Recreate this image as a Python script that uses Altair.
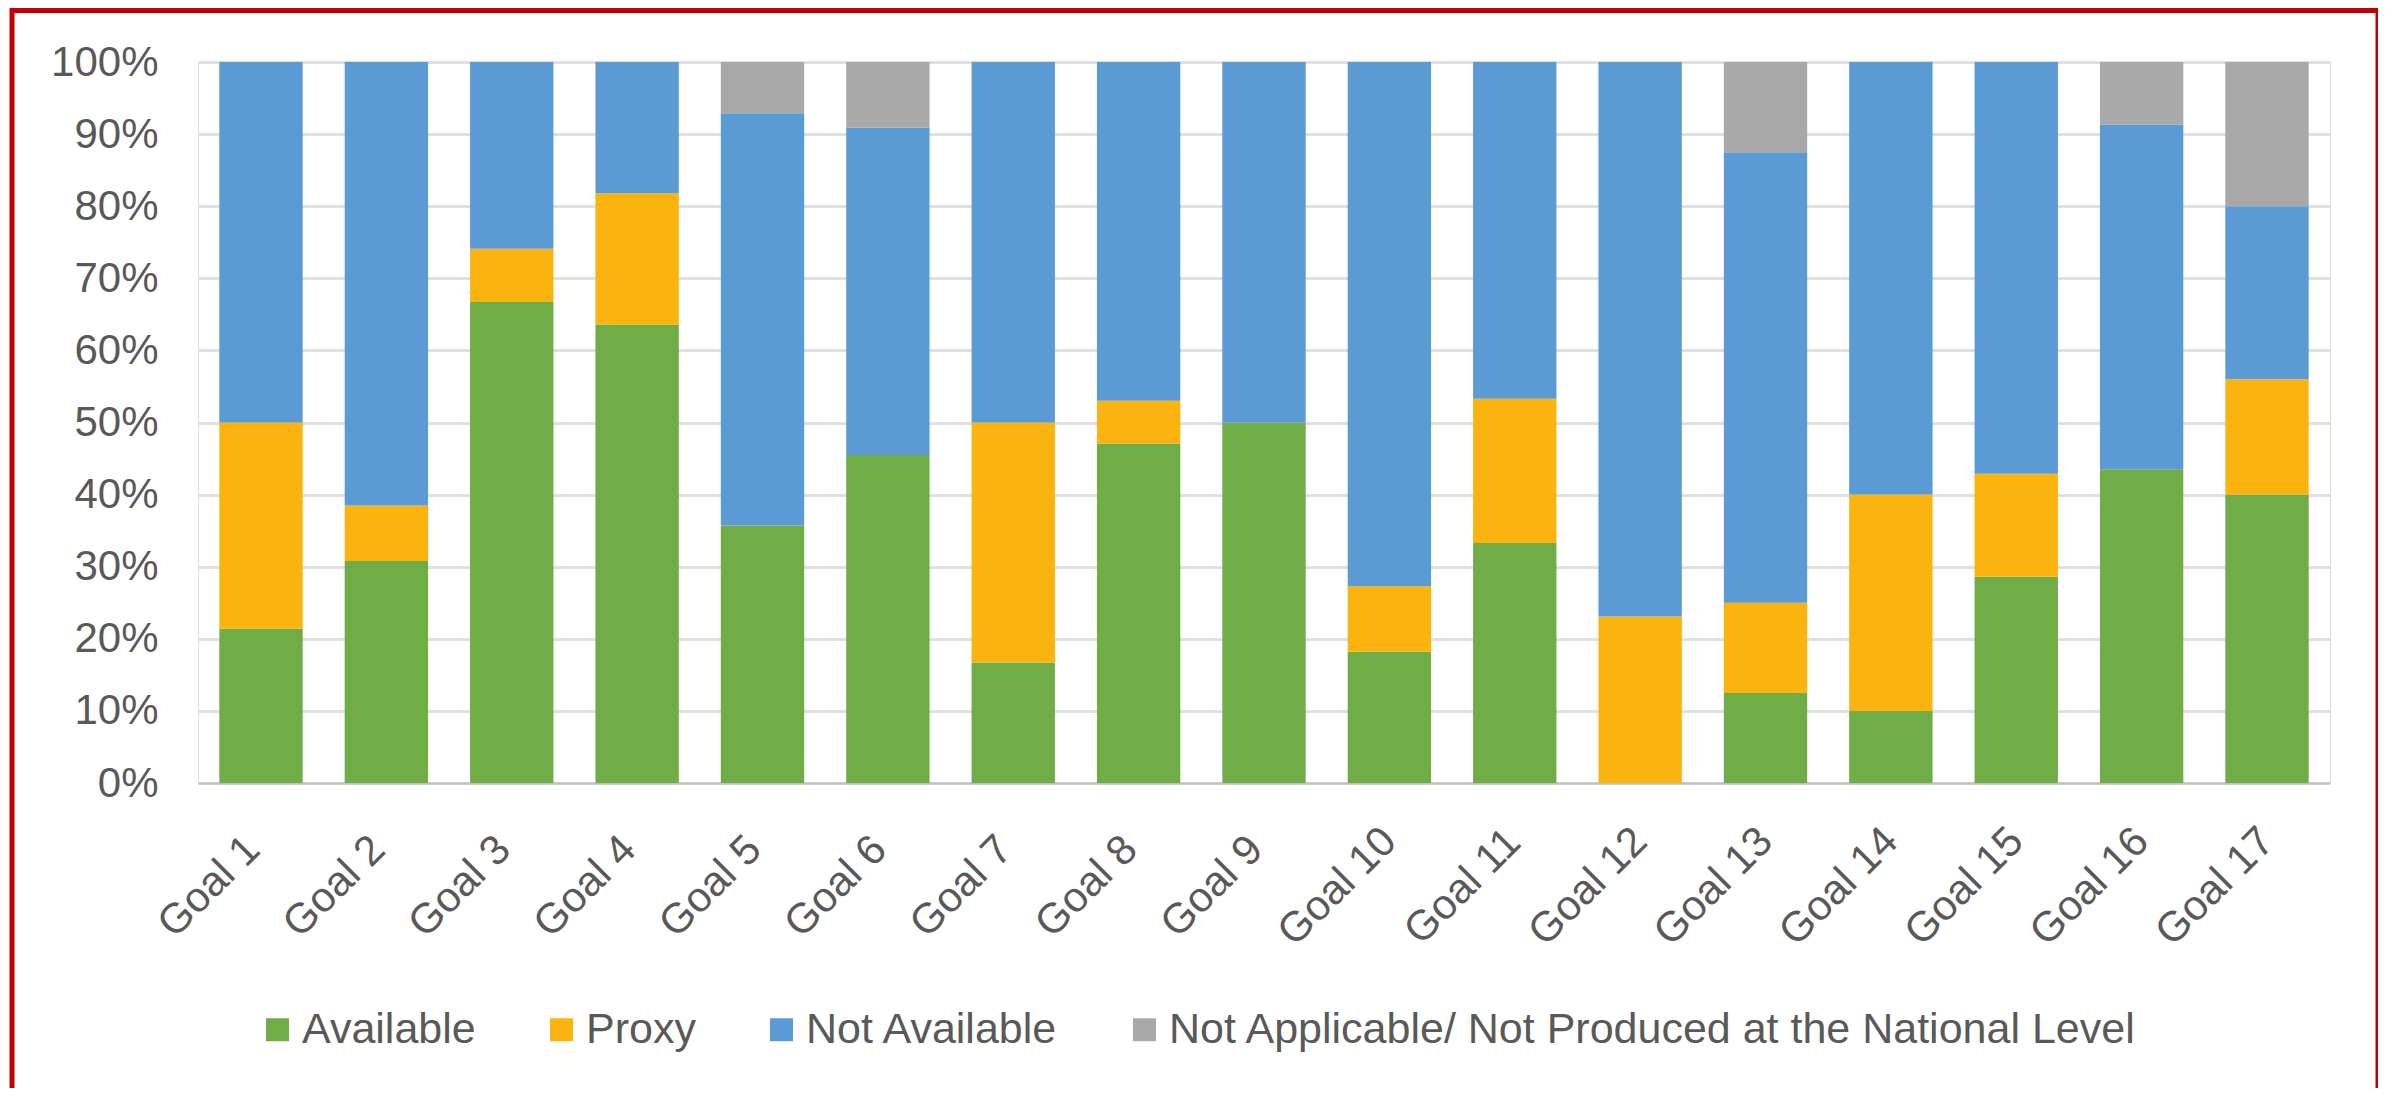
import altair as alt
import pandas as pd

goals = ["Goal 1", "Goal 2", "Goal 3", "Goal 4", "Goal 5", "Goal 6", "Goal 7", "Goal 8",
         "Goal 9", "Goal 10", "Goal 11", "Goal 12", "Goal 13", "Goal 14", "Goal 15",
         "Goal 16", "Goal 17"]

categories = ["Available", "Proxy", "Not Available",
              "Not Applicable/ Not Produced at the National Level"]

available = [21.4, 30.8, 66.7, 63.6, 35.7, 45.5, 16.7, 47.1, 50.0, 18.2, 33.3, 0.0, 12.5, 10.0, 28.6, 43.5, 40.0]
proxy = [28.6, 7.7, 7.4, 18.2, 0.0, 0.0, 33.3, 5.9, 0.0, 9.1, 20.0, 23.1, 12.5, 30.0, 14.3, 0.0, 16.0]
not_available = [50.0, 61.5, 25.9, 18.2, 57.2, 45.4, 50.0, 47.0, 50.0, 72.7, 46.7, 76.9, 62.5, 60.0, 57.1, 47.8, 24.0]
not_applicable = [0.0, 0.0, 0.0, 0.0, 7.1, 9.1, 0.0, 0.0, 0.0, 0.0, 0.0, 0.0, 12.5, 0.0, 0.0, 8.7, 20.0]

y_ticks = [0, 0.1, 0.2, 0.3, 0.4, 0.5, 0.6, 0.7, 0.8, 0.9, 1.0]

colors = ["#70AD47", "#FBB40F", "#5B9BD5", "#A9A9A9"]

series = [available, proxy, not_available, not_applicable]
rows = []
for i, g in enumerate(goals):
    for k, (cat, vals) in enumerate(zip(categories, series)):
        rows.append({"goal": g, "category": cat, "value": vals[i], "order": k})
df = pd.DataFrame(rows)

FONT = "Liberation Sans"
TXT = "#595959"

bars = alt.Chart(df).mark_bar().encode(
    x=alt.X("goal:N", sort=goals, title=None,
            scale=alt.Scale(paddingInner=0.335, paddingOuter=0.17),
            axis=alt.Axis(labelAngle=-45, labelAlign="center", labelBaseline="middle",
                          labelOffset=-52, labelPadding=103, labelFontSize=42,
                          labelFont=FONT, labelColor=TXT, ticks=False, domain=True,
                          domainColor="#BFBFBF", domainWidth=2, grid=False,
                          labelOverlap=False, labelLimit=0)),
    y=alt.Y("value:Q", stack="normalize", title=None,
            scale=alt.Scale(domain=[0, 1], nice=False),
            axis=alt.Axis(format=".0%", values=y_ticks, labelFontSize=42, labelFont=FONT,
                          labelColor=TXT, labelPadding=40, ticks=False, domain=False,
                          grid=True, gridColor="#E0E0E0", gridWidth=3)),
    color=alt.Color("category:N",
                    scale=alt.Scale(domain=categories, range=colors),
                    legend=alt.Legend(title=None, orient="none", legendX=58, legendY=946,
                                      direction="horizontal", symbolType="square",
                                      symbolSize=529, symbolStrokeWidth=0,
                                      labelFontSize=43, labelFont=FONT, labelColor=TXT,
                                      labelOffset=3, columnPadding=64, labelLimit=0,
                                      padding=0)),
    order=alt.Order("order:Q"),
)

frame = alt.Chart(pd.DataFrame({"a": [0]})).mark_rect(
    filled=False, stroke="#C00000", strokeWidth=5, clip=False
).encode(
    x=alt.value(-186), x2=alt.value(2180), y=alt.value(-51.5), y2=alt.value(1034)
)

chart = alt.layer(bars, frame).properties(
    width=2132, height=721,
    padding={"left": 190, "top": 54, "right": 48, "bottom": 305},
    autosize=alt.AutoSizeParams(type="none"),
).configure_view(stroke=None).configure(font=FONT)

chart.save("out.html", embed_options={"renderer": "svg", "actions": False})
